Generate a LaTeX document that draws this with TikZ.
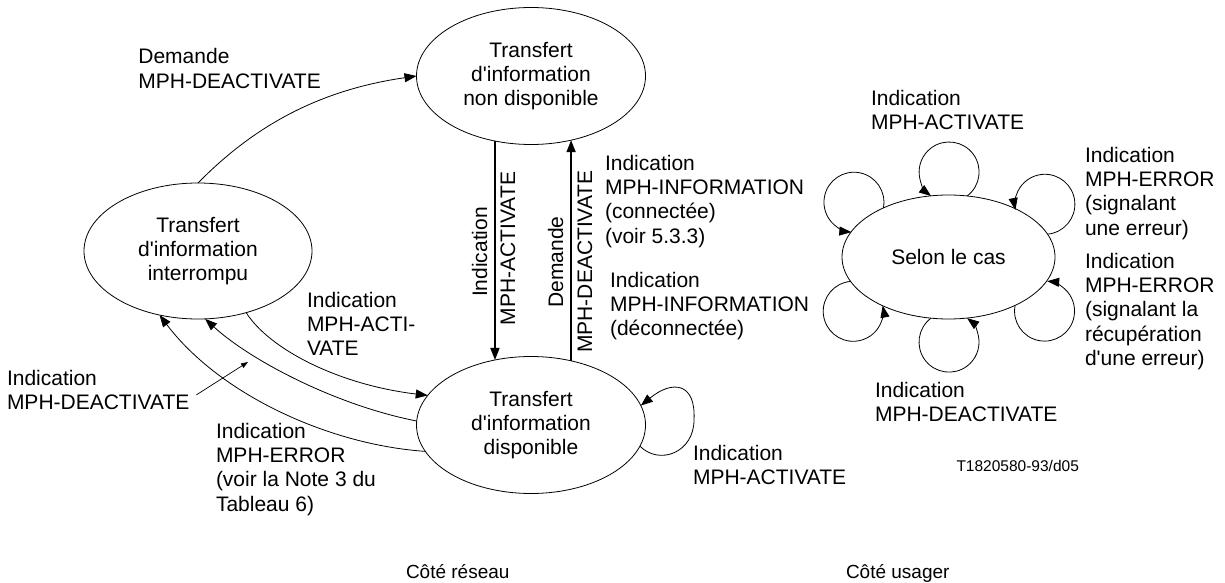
\documentclass[tikz,border=0pt]{standalone}
\usepackage{fontspec}
\setmainfont{Liberation Sans}
\usetikzlibrary{shapes.geometric,arrows.meta}
\newcommand{\ap}{\textquotesingle}
\begin{document}
\begin{tikzpicture}[x=1pt,y=-1pt,
  every node/.style={inner sep=0pt,outer sep=0pt},
  lbl/.style={font=\fontsize{21}{24.3}\selectfont,align=left,anchor=north west},
  rlbl/.style={font=\fontsize{21}{24.3}\selectfont,rotate=90,anchor=base},
  sidelbl/.style={font=\fontsize{19}{22}\selectfont,anchor=base west},
  state/.style={ellipse,draw,line width=0.8pt,font=\fontsize{21}{24.3}\selectfont,align=center},
  conn/.style={line width=0.8pt,-{Triangle[length=12pt,width=9pt]}},
  vconn/.style={line width=1.6pt,-{Triangle[length=12pt,width=9pt]}},
  ptr/.style={line width=0.7pt,-{Triangle[length=7pt,width=5pt]}}]
\useasboundingbox (0,0) rectangle (1225,583);

% states
\node[state,minimum width=229pt,minimum height=137pt] (eTop) at (531,76) {Transfert\\d\ap information\\non disponible};
\node[state,minimum width=228pt,minimum height=136pt] (eLeft) at (198,251) {Transfert\\d\ap information\\interrompu};
\node[state,minimum width=229pt,minimum height=137pt] (eBot) at (531,425) {Transfert\\d\ap information\\disponible};
\node[state,minimum width=213pt,minimum height=124pt] (eR) at (948.5,257) {Selon le cas};

% labels, network side
\node[lbl] (lblDemTop) at (138.4,48.7) {Demande\\MPH-DEACTIVATE};
\node[lbl] (lblActi) at (307,292) {Indication\\MPH-ACTI-\\VATE};
\node[lbl] (lblDeact) at (7,370) {Indication\\MPH-DEACTIVATE};
\node[lbl] (lblErr) at (216,423) {Indication\\MPH-ERROR\\(voir la Note 3 du\\Tableau 6)};
\node[lbl] (lblInfoC) at (605,155) {Indication\\MPH-INFORMATION\\(connectée)\\(voir 5.3.3)};
\node[lbl] (lblInfoD) at (610,272) {Indication\\MPH-INFORMATION\\(déconnectée)};
\node[lbl] (lblLoopAct) at (693,445) {Indication\\MPH-ACTIVATE};
\node[rlbl] (rInd) at (487,252) {Indication};
\node[rlbl] (rAct) at (515,248.5) {MPH-ACTIVATE};
\node[rlbl] (rDem) at (563,262) {Demande};
\node[rlbl] (rDeact) at (592,261.5) {MPH-DEACTIVATE};

% labels, user side
\node[lbl] (lblTopAct) at (871,90) {Indication\\MPH-ACTIVATE};
\node[lbl] (lblErr1) at (1085,147) {Indication\\MPH-ERROR\\(signalant\\une erreur)};
\node[lbl] (lblErr2) at (1085,253) {Indication\\MPH-ERROR\\(signalant la\\récupération\\d\ap une erreur)};
\node[lbl] (lblBotDeact) at (875,382) {Indication\\MPH-DEACTIVATE};

\node[font=\fontsize{15.5}{18}\selectfont,anchor=base west] (code) at (956.5,471) {T1820580-93/d05};
\node[sidelbl] (sideNet) at (406,578) {Côté réseau};
\node[sidelbl] (sideUser) at (846,578) {Côté usager};

% connectors, network side
\draw[conn] (eLeft.north) .. controls (255,125) and (320,90) .. (eTop.west);
\draw[vconn] (eTop.-119.7) -- (eBot.119.7);
\draw[vconn] (eBot.58.8) -- (eTop.-58.8);
\draw[conn] (eLeft.-52.8) .. controls (270,350) and (340,385) .. (eBot.164.9);
\draw[conn] (eBot.178.5) .. controls (335,405) and (250,360) .. (eLeft.-84);
\draw[conn] (eBot.194.5) .. controls (330,445) and (220,395) .. (eLeft.-121.8);
\coordinate (ptip) at (248,362);
\draw[ptr] ([shift={(7,5)}]lblDeact.east) -- (ptip);
\draw[conn] (eBot.-11.1) .. controls (660,466) and (694,452) .. (694,420)
  .. controls (696,382) and (672,380) .. (eBot.10.9);

% loops, user side
\draw[conn] (eR.73.96) arc[start angle=-53,end angle=233,radius=30pt];
\draw[conn] (eR.13.8) arc[start angle=-85,end angle=191,radius=30pt];
\draw[conn] (eR.143.8) arc[start angle=-11,end angle=265,radius=30pt];
\draw[conn] (eR.-166.2) arc[start angle=95,end angle=371,radius=30pt];
\draw[conn] (eR.-106.9) arc[start angle=127,end angle=413,radius=30pt];
\draw[conn] (eR.-36.2) arc[start angle=169,end angle=445,radius=30pt];
\end{tikzpicture}
\end{document}
